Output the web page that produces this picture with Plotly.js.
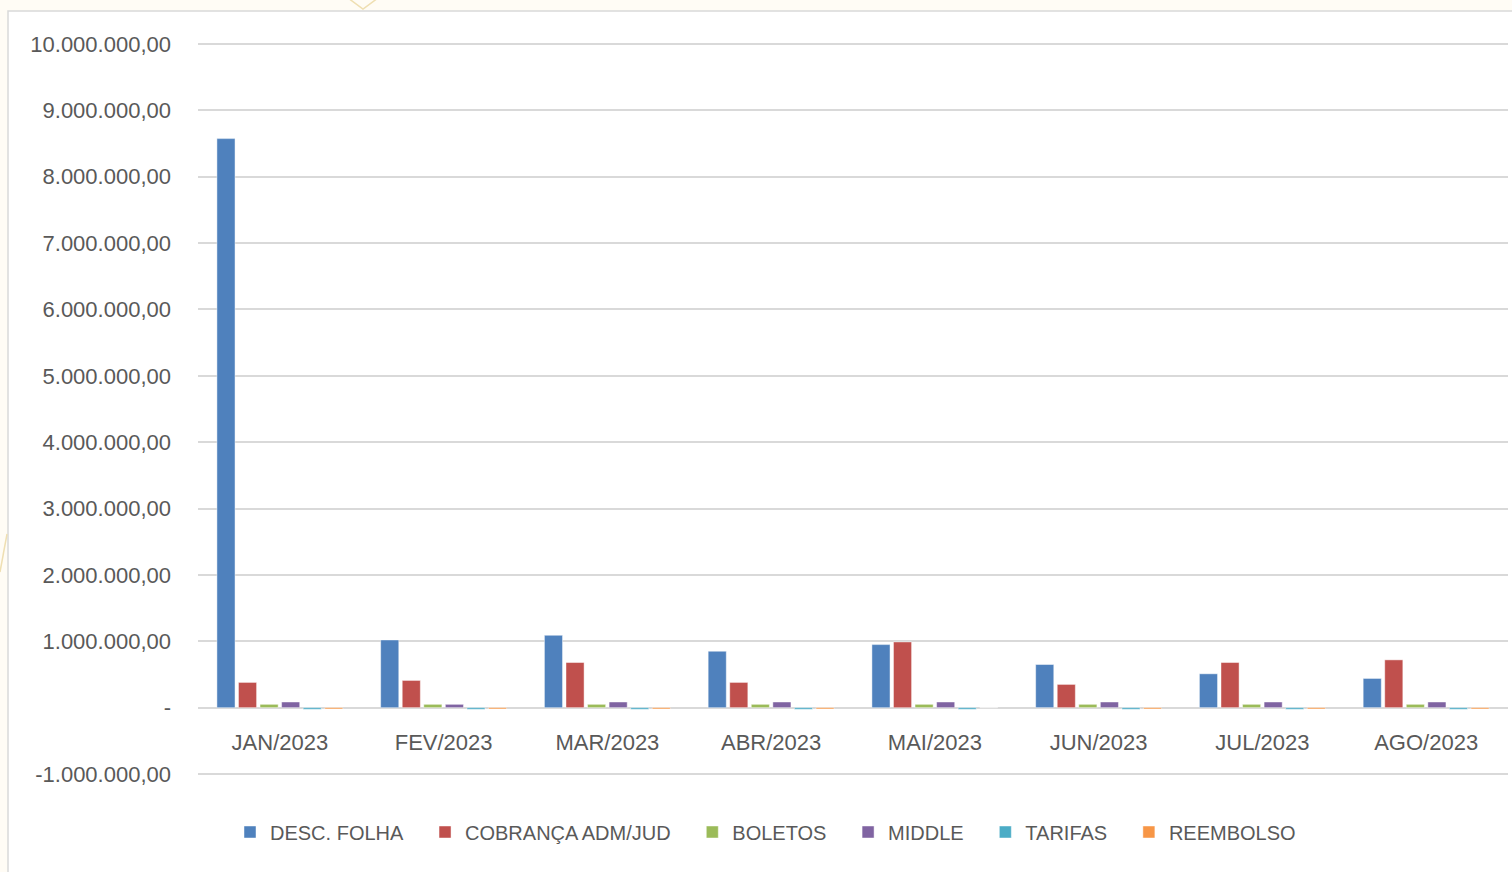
<!DOCTYPE html>
<html>
<head>
<meta charset="utf-8">
<script src="https://cdn.plot.ly/plotly-3.0.1.min.js"></script>
<style>html,body{margin:0;padding:0;background:#fffcf5;}#chart{width:1512px;height:872px;}</style>
</head>
<body>
<div id="chart"></div>
<script>
// ---- data ----
const months = ['JAN/2023','FEV/2023','MAR/2023','ABR/2023','MAI/2023','JUN/2023','JUL/2023','AGO/2023'];
const seriesNames = ['DESC. FOLHA','COBRANÇA ADM/JUD','BOLETOS','MIDDLE','TARIFAS','REEMBOLSO'];
const descFolha = [8574000, 1020000, 1090000, 850000, 950000, 650000, 510000, 440000];
const cobranca  = [380000, 410000, 680000, 380000, 990000, 350000, 680000, 720000];
const boletos   = [50000, 50000, 50000, 50000, 50000, 50000, 50000, 50000];
const middle    = [85000, 50000, 85000, 85000, 85000, 85000, 85000, 85000];
const tarifas   = [-25000, -25000, -25000, -25000, -25000, -25000, -25000, -25000];
const reembolso = [-20000, -20000, -20000, -20000, 0, -20000, -20000, -20000];
const yTickVals = [-1000000, 0, 1000000, 2000000, 3000000, 4000000, 5000000, 6000000, 7000000, 8000000, 9000000, 10000000];
const yTickText = ['-1.000.000,00', '-', '1.000.000,00', '2.000.000,00', '3.000.000,00', '4.000.000,00', '5.000.000,00', '6.000.000,00', '7.000.000,00', '8.000.000,00', '9.000.000,00', '10.000.000,00'];

const colors = ['#4f81bd', '#c0504d', '#9bbb59', '#8064a2', '#4bacc6', '#f79646'];
const values = [descFolha, cobranca, boletos, middle, tarifas, reembolso];
const pad = '\u00a0\u00a0\u00a0';

const traces = values.map((v, i) => ({
  type: 'bar',
  name: seriesNames[i] + pad,
  x: months,
  y: v,
  marker: { color: colors[i], line: { color: 'rgba(255,255,255,0.45)', width: 1 } }
}));

// pixel helpers for decoration shapes (plot area: x 198..1508, y 40..778)
const px = p => (p - 198) / 1310;
const py = p => (778 - p) / 738;
const deco = '#efdfb2';

const layout = {
  width: 1512, height: 872,
  margin: { l: 198, r: 4, t: 40, b: 94 },
  paper_bgcolor: '#fffcf5',
  plot_bgcolor: 'rgba(0,0,0,0)',
  font: { family: '"Liberation Sans", Arial, sans-serif', color: '#595959' },
  barmode: 'group',
  bargap: 0.21,
  bargroupgap: 0.16,
  showlegend: true,
  legend: {
    orientation: 'h', x: px(774), xanchor: 'center', y: py(832), yanchor: 'middle',
    font: { size: 20, color: '#595959' }, bgcolor: 'rgba(0,0,0,0)', traceorder: 'normal'
  },
  xaxis: {
    type: 'category', anchor: 'free', position: py(708),
    showline: false, showgrid: false, zeroline: false, ticks: '',
    tickfont: { size: 22, color: '#595959' }, ticklabelstandoff: 19
  },
  yaxis: {
    range: [-1060000, 10060000],
    tickvals: yTickVals, ticktext: yTickText,
    tickfont: { size: 22, color: '#595959' },
    showgrid: true, gridcolor: '#d9d9d9', gridwidth: 2,
    zeroline: true, zerolinecolor: '#d9d9d9', zerolinewidth: 2,
    showline: false, ticks: '', ticklabelstandoff: 26
  },
  shapes: [
    { type: 'rect', xref: 'paper', yref: 'paper', x0: px(8), x1: 1.1, y0: -0.3, y1: py(11),
      fillcolor: '#ffffff', line: { color: '#d9d9d9', width: 1.5 }, layer: 'below' },
    { type: 'path', xref: 'paper', yref: 'paper',
      path: `M ${px(348)} ${py(-2)} L ${px(363)} ${py(9)} L ${px(378)} ${py(-2)}`,
      line: { color: deco, width: 1.5 }, layer: 'below' },
    { type: 'line', xref: 'paper', yref: 'paper', x0: px(0), y0: py(572), x1: px(7), y1: py(534),
      line: { color: deco, width: 1.5 }, layer: 'below' }
  ]
};

Plotly.newPlot('chart', traces, layout, { displayModeBar: false, responsive: false });
</script>
</body>
</html>
